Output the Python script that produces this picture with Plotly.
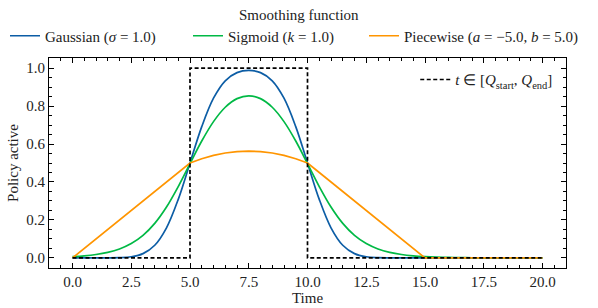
import plotly.graph_objects as go

# Time grid (step 0.5)
time = [0.0, 0.5, 1.0, 1.5, 2.0, 2.5, 3.0, 3.5, 4.0, 4.5,
        5.0, 5.5, 6.0, 6.5, 7.0, 7.5, 8.0, 8.5, 9.0, 9.5,
        10.0, 10.5, 11.0, 11.5, 12.0, 12.5, 13.0, 13.5, 14.0, 14.5,
        15.0, 15.5, 16.0, 16.5, 17.0, 17.5, 18.0, 18.5, 19.0, 19.5, 20.0]

gaussian = [0.0, 0.0, 0.0, 0.0002, 0.0013, 0.0062, 0.0228, 0.0668, 0.1587, 0.3085,
            0.5, 0.6915, 0.8413, 0.9330, 0.9759, 0.9876, 0.9759, 0.9330, 0.8413, 0.6915,
            0.5, 0.3085, 0.1587, 0.0668, 0.0228, 0.0062, 0.0013, 0.0002, 0.0, 0.0,
            0.0, 0.0, 0.0, 0.0, 0.0, 0.0, 0.0, 0.0, 0.0, 0.0, 0.0]

sigmoid = [0.0067, 0.0110, 0.0180, 0.0293, 0.0474, 0.0758, 0.1191, 0.1821, 0.2682, 0.3760,
           0.4967, 0.6157, 0.7179, 0.7936, 0.8390, 0.8540, 0.8390, 0.7936, 0.7179, 0.6157,
           0.4967, 0.3760, 0.2682, 0.1821, 0.1191, 0.0758, 0.0474, 0.0293, 0.0180, 0.0110,
           0.0067, 0.0041, 0.0025, 0.0015, 0.0009, 0.0006, 0.0003, 0.0002, 0.0001, 0.0001, 0.0]

piecewise = [0.0, 0.05, 0.10, 0.15, 0.20, 0.25, 0.30, 0.35, 0.40, 0.45,
             0.50, 0.5225, 0.54, 0.5525, 0.56, 0.5625, 0.56, 0.5525, 0.54, 0.5225,
             0.50, 0.45, 0.40, 0.35, 0.30, 0.25, 0.20, 0.15, 0.10, 0.05,
             0.0, 0.0, 0.0, 0.0, 0.0, 0.0, 0.0, 0.0, 0.0, 0.0, 0.0]

# Active window indicator
step_time = [0.0, 5.0, 5.0, 10.0, 10.0, 20.0]
step_value = [0.0, 0.0, 1.0, 1.0, 0.0, 0.0]

x_ticks = [0.0, 2.5, 5.0, 7.5, 10.0, 12.5, 15.0, 17.5, 20.0]
y_ticks = [0.0, 0.2, 0.4, 0.6, 0.8, 1.0]

FONT = "Liberation Serif"
FS = 15
TXT = "#222"
BLUE, GREEN, ORANGE = "#0C5DA5", "#00B945", "#FF9500"
W, H = 598, 308
ML, MR, MT, MB = 49, 32, 58, 40
PW, PH = W - ML - MR, H - MT - MB

fig = go.Figure()
fig.add_trace(go.Scatter(x=time, y=gaussian, mode="lines", name="Gaussian (<i>σ</i> = 1.0)",
                         line=dict(color=BLUE, width=1.7, shape="spline", smoothing=1.0), legend="legend"))
fig.add_trace(go.Scatter(x=time, y=sigmoid, mode="lines", name="Sigmoid (<i>k</i> = 1.0)",
                         line=dict(color=GREEN, width=1.7, shape="spline", smoothing=1.0), legend="legend3"))
fig.add_trace(go.Scatter(x=time, y=piecewise, mode="lines", name="Piecewise (<i>a</i> = −5.0, <i>b</i> = 5.0)",
                         line=dict(color=ORANGE, width=1.7), legend="legend4"))
fig.add_trace(go.Scatter(x=step_time, y=step_value, mode="lines",
                         name="<i>t</i> ∈ [<i>Q</i><sub>start</sub>, <i>Q</i><sub>end</sub>]",
                         line=dict(color="black", width=1.7, dash="4px,2.5px"), legend="legend2"))

axis_common = dict(showline=True, linecolor="black", linewidth=1.2, mirror="allticks",
                   ticks="inside", ticklen=5, tickwidth=1, tickcolor="black",
                   showgrid=False, zeroline=False, automargin=False,
                   tickfont=dict(family=FONT, size=FS, color=TXT))

fig.update_xaxes(range=[-1, 21], tickvals=x_ticks, ticktext=[f"{v:.1f}" for v in x_ticks],
                 minor=dict(ticks="inside", dtick=0.5, tick0=0, ticklen=2.5, tickcolor="black"),
                 title=dict(text="Time", font=dict(family=FONT, size=FS, color=TXT), standoff=2),
                 **axis_common)
fig.update_yaxes(range=[-0.053, 1.053], tickvals=y_ticks, ticktext=[f"{v:.1f}" for v in y_ticks],
                 minor=dict(ticks="inside", dtick=0.05, tick0=0, ticklen=2.5, tickcolor="black"),
                 title=dict(text="Policy active", font=dict(family=FONT, size=FS, color=TXT), standoff=3),
                 **axis_common)

row_y = 1 - 36 / H
top_legend = dict(orientation="h", xanchor="left", yanchor="middle", y=row_y,
                  xref="container", yref="container",
                  font=dict(family=FONT, size=FS), bgcolor="rgba(0,0,0,0)", itemwidth=30)

fig.update_layout(
    width=W, height=H,
    margin=dict(l=ML, r=MR, t=MT, b=MB, autoexpand=False),
    paper_bgcolor="white", plot_bgcolor="white",
    font=dict(family=FONT, size=FS, color=TXT),
    legend=dict(x=5 / W, **top_legend),
    legend3=dict(x=188 / W, **top_legend),
    legend4=dict(x=364 / W, **top_legend),
    legend2=dict(x=0.985, xanchor="right", y=0.975, yanchor="top",
                 font=dict(family=FONT, size=FS), bgcolor="rgba(0,0,0,0)", itemwidth=30),
    annotations=[dict(text="Smoothing function", xref="paper", yref="paper",
                      x=(299 - ML) / PW, y=(H - MB - 15) / PH, xanchor="center", yanchor="middle",
                      showarrow=False, font=dict(family=FONT, size=FS, color=TXT))],
    showlegend=True,
)

fig.write_html("out.html", config={"displayModeBar": False},
               post_script="document.body.style.margin='0';document.body.style.overflow='hidden';")
